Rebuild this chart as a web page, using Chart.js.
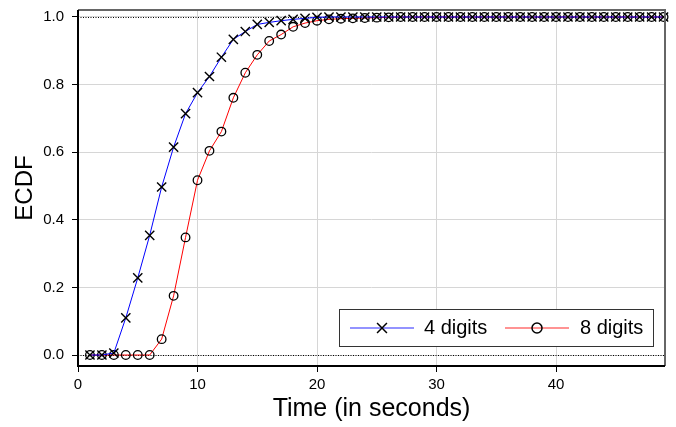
<!DOCTYPE html>
<html><head><meta charset="utf-8">
<script src="https://cdn.jsdelivr.net/npm/chart.js@4/dist/chart.umd.min.js"></script>
<style>html,body{margin:0;padding:0;background:#fff}#wrap{width:676px;height:427px}</style>
</head><body><div id="wrap"><canvas id="c" width="676" height="427"></canvas></div>
<script>
const times = [1,2,3,4,5,6,7,8,9,10,11,12,13,14,15,16,17,18,19,20,21,22,23,24,25,26,27,28,29,30,31,32,33,34,35,36,37,38,39,40,41,42,43,44,45,46,47,48,49];
const ecdf4 = [0,0,0.006,0.11,0.228,0.354,0.497,0.615,0.714,0.776,0.824,0.881,0.934,0.957,0.978,0.984,0.989,0.993,0.996,0.999,1,1,1,1,1,1,1,1,1,1,1,1,1,1,1,1,1,1,1,1,1,1,1,1,1,1,1,1,1];
const ecdf8 = [0,0,0,0,0,0,0.047,0.175,0.348,0.517,0.604,0.661,0.761,0.835,0.888,0.929,0.948,0.971,0.982,0.989,0.993,0.995,0.996,0.997,0.998,0.999,1,1,1,1,1,1,1,1,1,1,1,1,1,1,1,1,1,1,1,1,1,1,1];
const seriesLabels = ['4 digits','8 digits'];
const xTicks = [0,10,20,30,40];
const yTicks = [0,0.2,0.4,0.6,0.8,1.0];

const FONT = 'Liberation Sans, Arial, sans-serif';

const frame = {
  id:'frame',
  beforeDatasetsDraw(chart){
    const {ctx, chartArea:a, scales:{y}} = chart;
    ctx.save();
    ctx.strokeStyle='#000'; ctx.lineWidth=1; ctx.setLineDash([1,1.5]);
    [0,1].forEach(v=>{const py=Math.round(y.getPixelForValue(v))+0.5;ctx.beginPath();ctx.moveTo(a.left,py);ctx.lineTo(a.right,py);ctx.stroke();});
    ctx.restore();
  },
  afterDatasetsDraw(chart){
    const {ctx, chartArea:a} = chart;
    ctx.save();
    ctx.strokeStyle='#666'; ctx.lineWidth=2;
    ctx.beginPath(); ctx.moveTo(a.left,a.top); ctx.lineTo(a.right,a.top); ctx.lineTo(a.right,a.bottom); ctx.stroke();
    ctx.strokeStyle='#000'; ctx.lineWidth=2;
    ctx.beginPath(); ctx.moveTo(a.left,a.top); ctx.lineTo(a.left,a.bottom); ctx.lineTo(a.right,a.bottom); ctx.stroke();
    // legend
    const lx=339, ly=309, lw=314, lh=37;
    ctx.fillStyle='#fff'; ctx.fillRect(lx,ly,lw,lh);
    ctx.strokeStyle='#333'; ctx.lineWidth=1; ctx.strokeRect(lx+0.5,ly+0.5,lw,lh);
    const cy = ly+lh/2+0.5;
    const items=[{x0:350,col:'#6f6fff',ds:0,tx:424,r:7},{x0:505,col:'#ff6f6f',ds:1,tx:580,r:5}];
    items.forEach(it=>{
      const d = chart.data.datasets[it.ds];
      ctx.strokeStyle=it.col; ctx.lineWidth=1.5;
      ctx.beginPath(); ctx.moveTo(it.x0,cy); ctx.lineTo(it.x0+64,cy); ctx.stroke();
      ctx.strokeStyle='#000'; ctx.fillStyle='rgba(0,0,0,0)';
      Chart.helpers.drawPoint(ctx,{pointStyle:d.pointStyle,radius:it.r,borderWidth:1.5,rotation:0},it.x0+32,cy);
      ctx.fillStyle='#000'; ctx.font='20px '+FONT; ctx.textBaseline='middle'; ctx.textAlign='left';
      ctx.fillText(d.label,it.tx,cy);
    });
    ctx.restore();
  }
};

new Chart(document.getElementById('c'),{
  type:'line',
  data:{datasets:[
    {label:seriesLabels[0],data:times.map((t,i)=>({x:t,y:ecdf4[i]})),borderColor:'#0000ff',borderWidth:1,pointStyle:'crossRot',pointRadius:6.5,pointBorderColor:'#000',pointBorderWidth:1.4,pointBackgroundColor:'rgba(0,0,0,0)',tension:0},
    {label:seriesLabels[1],data:times.map((t,i)=>({x:t,y:ecdf8[i]})),borderColor:'#ff0000',borderWidth:1,pointStyle:'circle',pointRadius:4.3,pointBorderColor:'#000',pointBorderWidth:1.3,pointBackgroundColor:'rgba(0,0,0,0)',tension:0}
  ]},
  options:{
    responsive:false,animation:false,clip:false,
    layout:{padding:{left:0,right:11,top:10,bottom:0}},
    plugins:{legend:{display:false},tooltip:{enabled:false}},
    elements:{point:{hoverRadius:0}},
    scales:{
      x:{type:'linear',min:0,max:49.12,
        afterBuildTicks(s){s.ticks=xTicks.map(v=>({value:v}));},
        afterFit(s){s.height=61;s.paddingLeft=0;s.paddingRight=0;},
        ticks:{font:{family:FONT,size:15},color:'#000',padding:4,maxRotation:0},
        grid:{color:'#d6d6d6',lineWidth:1,tickColor:'#000',tickLength:6,drawTicks:true},
        border:{display:false},
        title:{display:true,text:'Time (in seconds)',font:{family:FONT,size:25},color:'#000',padding:{top:3,bottom:3}}
      },
      y:{type:'linear',min:-0.0325,max:1.0207,
        afterBuildTicks(s){s.ticks=yTicks.map(v=>({value:v}));},
        afterFit(s){s.width=78;s.paddingTop=0;s.paddingBottom=0;},
        ticks:{font:{family:FONT,size:15},color:'#000',padding:8,callback:v=>Number(v).toFixed(1)},
        grid:{color:'#d6d6d6',lineWidth:1,tickColor:'#000',tickLength:6,drawTicks:true},
        border:{display:false},
        title:{display:true,text:'ECDF',font:{family:FONT,size:24},color:'#000',padding:{top:10.5,bottom:0}}
      }
    }
  },
  plugins:[frame]
});
</script></body></html>
